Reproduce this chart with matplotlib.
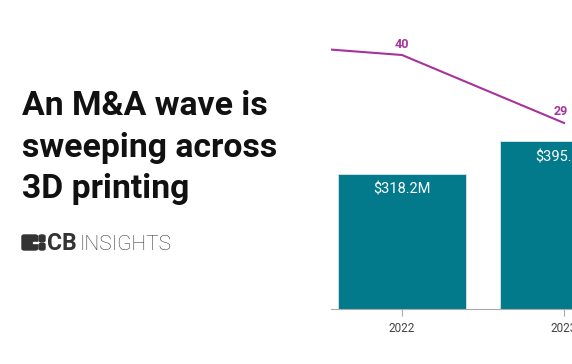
import matplotlib.pyplot as plt
from matplotlib.patches import FancyBboxPatch, Rectangle

plt.rcParams['font.family'] = ['Roboto', 'DejaVu Sans']

# data
years = [2021, 2022, 2023]
deal_counts = [42, 40, 29]
bar_years = [2022, 2023]
acq_value = [318.2, 395.6]
bar_labels = ['$318.2M', '$395.6M']
tick_labels = ['2022', '2023']

W, H = 572, 364
TEAL = '#027a8c'
PURPLE = '#a8329b'


def fx(x):
    return x / W


def fy(y):
    return 1 - y / H


fig = plt.figure(figsize=(W / 100, H / 100), dpi=100)

# chart area (cropped on the right, like the original)
ax = fig.add_axes([fx(331), fy(309), 1 - fx(331), fy(0) - fy(309)])
ax.bar(bar_years, acq_value, width=0.79, color=TEAL, edgecolor='#d8e6ea', linewidth=0.6, zorder=2)
for x, v, lab in zip(bar_years, acq_value, bar_labels):
    ax.annotate(lab, (x, v), xytext=(0, -16), textcoords='offset pixels',
                ha='center', va='center', color='white', fontsize=10.5)
ax.set_xlim(2021.562, 2023.049)
ax.set_ylim(0, 728)
ax.set_xticks(bar_years)
ax.set_xticklabels(tick_labels, fontsize=8.5, color='#444444')
ax.tick_params(axis='x', length=5, color='#aaaaaa', pad=4)
ax.set_yticks([])
for s in ['top', 'right', 'left']:
    ax.spines[s].set_visible(False)
ax.spines['bottom'].set_color('#aaaaaa')
ax.spines['bottom'].set_linewidth(0.8)

ax2 = ax.twinx()
ax2.plot(years, deal_counts, color=PURPLE, lw=1.5, zorder=3)
for x, v in zip(years, deal_counts):
    dx = -3 if x == 2023 else 0
    ax2.annotate(str(v), (x, v), xytext=(dx, 11), textcoords='offset pixels',
                 ha='center', va='center', color=PURPLE, fontsize=9, fontweight='bold')
ax2.set_ylim(-1.1, 48.9)
ax2.set_yticks([])
ax2.axis('off')

# title
title_lines = ['An M&A wave is', 'sweeping across', '3D printing']
for i, line in enumerate(title_lines):
    fig.text(fx(22), fy(115 + i * 41.5), line, fontsize=24.3, fontweight='bold',
             color='#111111', va='baseline', ha='left')

# logo
DARK = '#333333'
def block(x0, y0, w, h):
    p = FancyBboxPatch((fx(x0), fy(y0 + h)), w / W, h / H,
                       boxstyle='round,pad=0,rounding_size=0.004',
                       transform=fig.transFigure, color=DARK)
    fig.add_artist(p)

block(22, 235, 15.5, 15)
block(39, 235, 6, 6.8)
block(39, 243.2, 6, 6.8)
fig.add_artist(Rectangle((fx(33), fy(243.2)), 4.5 / W, 1.4 / H,
                         transform=fig.transFigure, color='white'))
fig.text(fx(47.5), fy(250), 'CB', fontsize=16.5, fontweight='bold', color=DARK, va='baseline')
fig.text(fx(79.5), fy(250), 'INSIGHTS', fontsize=15, fontweight='light', color=DARK, va='baseline')

fig.savefig('out.png', dpi=100)
